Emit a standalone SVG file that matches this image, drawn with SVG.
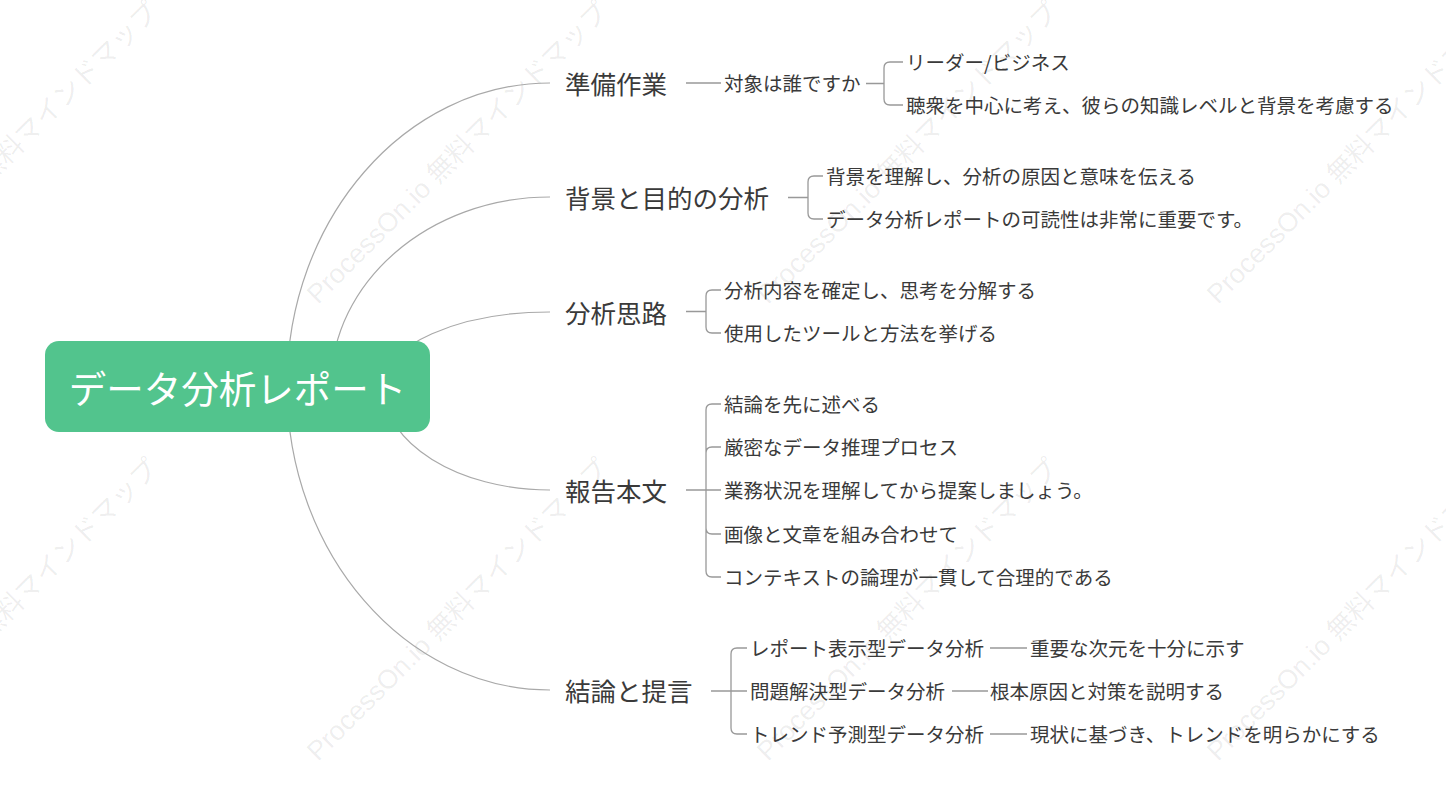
<svg xmlns="http://www.w3.org/2000/svg" width="1446" height="810" viewBox="0 0 1446 810">
<style>
.wm{font-family:"Liberation Sans","Noto Sans CJK JP",sans-serif;font-size:27px;fill:#000;fill-opacity:0.075}
.topic{font-family:"Noto Sans CJK JP",sans-serif;font-size:25.5px;fill:#3a3a3a;dominant-baseline:central}
.sub{font-family:"Noto Sans CJK JP",sans-serif;font-size:19.5px;fill:#3a3a3a;dominant-baseline:central}
.root{font-family:"Noto Sans CJK JP",sans-serif;font-size:37.5px;fill:#ffffff;dominant-baseline:central;text-anchor:middle}
.curve{fill:none;stroke:#a9a9a9;stroke-width:1.2}
.br{fill:none;stroke:#999999;stroke-width:1.3}
</style>
<rect width="1446" height="810" fill="#ffffff"/>
<g id="watermarks">
<text class="wm" transform="translate(-132,305) rotate(-45)">ProcessOn.io 無料マインドマップ</text>
<text class="wm" transform="translate(318,305) rotate(-45)">ProcessOn.io 無料マインドマップ</text>
<text class="wm" transform="translate(768,305) rotate(-45)">ProcessOn.io 無料マインドマップ</text>
<text class="wm" transform="translate(1218,305) rotate(-45)">ProcessOn.io 無料マインドマップ</text>
<text class="wm" transform="translate(-132,762) rotate(-45)">ProcessOn.io 無料マインドマップ</text>
<text class="wm" transform="translate(318,762) rotate(-45)">ProcessOn.io 無料マインドマップ</text>
<text class="wm" transform="translate(768,762) rotate(-45)">ProcessOn.io 無料マインドマップ</text>
<text class="wm" transform="translate(1218,762) rotate(-45)">ProcessOn.io 無料マインドマップ</text>
</g>
<g id="connectors">
<path class="curve" d="M287,386 C287,219.3 405.3,83 550,83"/>
<path class="curve" d="M331,386 C331,282 429.5,197 550,197"/>
<path class="curve" d="M383,386 C383,345.3 458.1,312 550,312"/>
<path class="curve" d="M383,386 C383,443.2 458.1,490 550,490"/>
<path class="curve" d="M287,386 C287,553.2 405.3,690 550,690"/>
<path class="br" d="M686,83 H721"/>
<path class="br" d="M866,83.5 H884 M884,83.5 V68 Q884,62 890,62 H903 M884,83.5 V99 Q884,105 890,105 H903"/>
<path class="br" d="M788,197.5 H808 M808,197.5 V182 Q808,176 814,176 H823 M808,197.5 V213 Q808,219 814,219 H823"/>
<path class="br" d="M686,311.5 H706 M706,311.5 V296 Q706,290 712,290 H721 M706,311.5 V327 Q706,333 712,333 H721"/>
<path class="br" d="M686,490 H721 M706,490 V410 Q706,404 712,404 H721 M706,490 V453 Q706,447 712,447 H721 M706,490 V528 Q706,534 712,534 H721 M706,490 V571 Q706,577 712,577 H721"/>
<path class="br" d="M711,691 H747 M731,691 V654 Q731,648 737,648 H747 M731,691 V728 Q731,734 737,734 H747"/>
<path class="br" d="M990,648 H1027 M952,691 H988 M990,734 H1027"/>
</g>
<g id="root">
<rect x="45" y="341" width="385" height="91" rx="14" fill="#52c48d"/>
<text class="root" x="237.5" y="386">データ分析レポート</text>
</g>
<g id="topic-prep">
<text class="topic" x="565" y="82">準備作業</text>
<text class="sub" x="724" y="82">対象は誰ですか</text>
<text class="sub" x="906" y="61">リーダー/ビジネス</text>
<text class="sub" x="906" y="104">聴衆を中心に考え、彼らの知識レベルと背景を考慮する</text>
</g>
<g id="topic-background">
<text class="topic" x="565" y="196">背景と目的の分析</text>
<text class="sub" x="826" y="175">背景を理解し、分析の原因と意味を伝える</text>
<text class="sub" x="826" y="218">データ分析レポートの可読性は非常に重要です。</text>
</g>
<g id="topic-thinking">
<text class="topic" x="565" y="311">分析思路</text>
<text class="sub" x="724" y="289">分析内容を確定し、思考を分解する</text>
<text class="sub" x="724" y="332">使用したツールと方法を挙げる</text>
</g>
<g id="topic-body">
<text class="topic" x="565" y="489">報告本文</text>
<text class="sub" x="724" y="403">結論を先に述べる</text>
<text class="sub" x="724" y="446">厳密なデータ推理プロセス</text>
<text class="sub" x="724" y="489">業務状況を理解してから提案しましょう。</text>
<text class="sub" x="724" y="533">画像と文章を組み合わせて</text>
<text class="sub" x="724" y="576">コンテキストの論理が一貫して合理的である</text>
</g>
<g id="topic-conclusion">
<text class="topic" x="565" y="689">結論と提言</text>
<text class="sub" x="750" y="647">レポート表示型データ分析</text>
<text class="sub" x="750" y="690">問題解決型データ分析</text>
<text class="sub" x="750" y="733">トレンド予測型データ分析</text>
<text class="sub" x="1030" y="647">重要な次元を十分に示す</text>
<text class="sub" x="990" y="690">根本原因と対策を説明する</text>
<text class="sub" x="1030" y="733">現状に基づき、トレンドを明らかにする</text>
</g>
</svg>
